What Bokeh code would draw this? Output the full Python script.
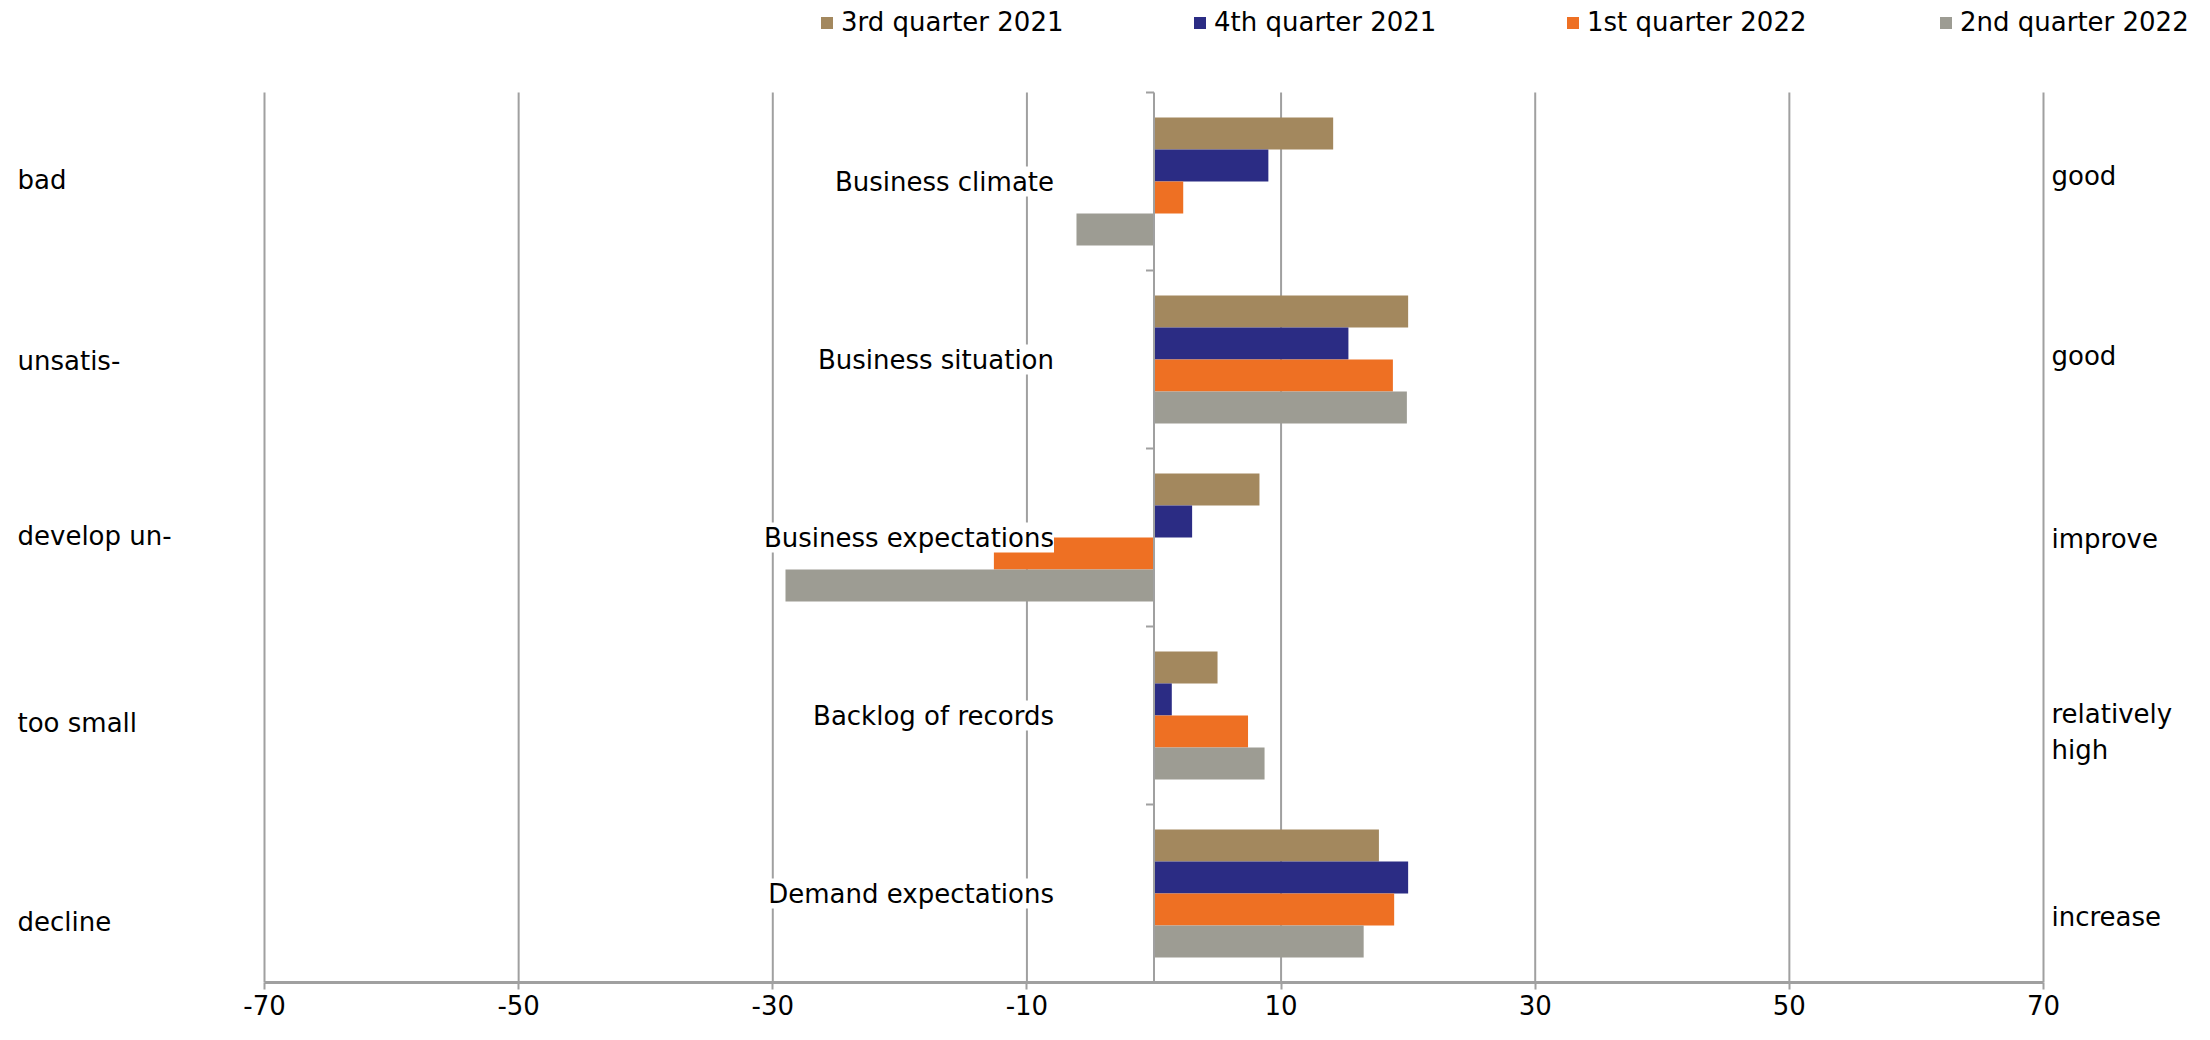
from bokeh.plotting import figure
from bokeh.models import (ColumnDataSource, FixedTicker, LabelSet, Legend,
                          LegendItem, Range1d)
from bokeh.embed import file_html
from bokeh.resources import INLINE
from bokeh.core.properties import value

# ---------------- data ----------------
categories = ["Business climate", "Business situation", "Business expectations",
              "Backlog of records", "Demand expectations"]
series_names = ["3rd quarter 2021", "4th quarter 2021", "1st quarter 2022", "2nd quarter 2022"]
q3_2021 = [14.1, 20.0, 8.3, 5.0, 17.7]
q4_2021 = [9.0, 15.3, 3.0, 1.4, 20.0]
q1_2022 = [2.3, 18.8, -12.6, 7.4, 18.9]
q2_2022 = [-6.1, 19.9, -29.0, 8.7, 16.5]
x_ticks = [-70, -50, -30, -10, 10, 30, 50, 70]
left_labels = ["bad", "unsatis-", "develop un-", "too small", "decline"]
right_labels = ["good", "good", "improve", "relatively\nhigh", "increase"]

# ---------------- style / layout ----------------
colors = ["#A3885E", "#2B2C84", "#EE7023", "#9D9C93"]
FONT = "DejaVu Sans"
FS = "26px"
GRID = "#A0A0A0"
W, H = 2194, 1024
AXIS_H = 42
FH = H - AXIS_H
X_MIN, X_MAX = -70, 70
PX_LEFT, PX_RIGHT = 264, 2043      # pixel positions of -70 and 70
PX_TOP = 92                        # pixel position of the top of the category block
n = len(categories)
ppu_x = (PX_RIGHT - PX_LEFT) / (X_MAX - X_MIN)
ppu_y = (FH - PX_TOP) / n
x_start = X_MIN - PX_LEFT / ppu_x
x_end = X_MAX + (W - PX_RIGHT) / ppu_x
y_end = n + PX_TOP / ppu_y

bar_offsets = [0.27, 0.09, -0.09, -0.27]
bar_h = 0.18
left_label_y = [4.51, 3.49, 2.51, 1.46, 0.34]
right_label_y = [4.53, 3.52, 2.49, 1.41, 0.37]

p = figure(frame_width=W, frame_height=FH,
           x_range=Range1d(x_start, x_end), y_range=Range1d(0, y_end),
           output_backend="svg", toolbar_location=None,
           min_border_left=0, min_border_right=0, min_border_top=0,
           min_border_bottom=AXIS_H, y_axis_location=None)
p.outline_line_color = None
p.background_fill_color = "white"
p.border_fill_color = "white"
p.xgrid.visible = False
p.ygrid.visible = False

# x axis
ax = p.xaxis[0]
ax.ticker = FixedTicker(ticks=x_ticks)
ax.bounds = (X_MIN, X_MAX)
ax.axis_line_color = GRID
ax.axis_line_width = 3
ax.major_tick_line_color = GRID
ax.major_tick_line_width = 2
ax.major_tick_out = 7
ax.major_tick_in = 0
ax.minor_tick_line_color = None
ax.major_label_text_font = FONT
ax.major_label_text_font_size = FS
ax.major_label_text_color = "black"
ax.major_label_standoff = 5
ax.major_label_overrides = {t: str(t) for t in x_ticks}

# vertical gridlines
p.segment(x0=x_ticks, x1=x_ticks, y0=[0] * len(x_ticks), y1=[n] * len(x_ticks),
          line_color=GRID, line_width=2)

# bars
series = [q3_2021, q4_2021, q1_2022, q2_2022]
renderers = []
for j, vals in enumerate(series):
    ys = [n - 1 - i + 0.5 + bar_offsets[j] for i in range(n)]
    src = ColumnDataSource(dict(y=ys, right=vals, left=[0] * n))
    r = p.hbar(y="y", left="left", right="right", height=bar_h, source=src,
               fill_color=colors[j], line_color=None)
    renderers.append(r)

# zero line with category boundary ticks
p.segment(x0=[0], x1=[0], y0=[0], y1=[n], line_color=GRID, line_width=2)
tick_units = 8 / ppu_x
p.segment(x0=[-tick_units] * n, x1=[0] * n,
          y0=list(range(1, n + 1)), y1=list(range(1, n + 1)),
          line_color=GRID, line_width=2)

# category labels
cat_src = ColumnDataSource(dict(x=[0] * n, y=[n - 1 - i + 0.5 for i in range(n)], text=categories))
p.add_layout(LabelSet(x="x", y="y", text="text", source=cat_src, x_offset=-100,
                      text_align="right", text_baseline="middle",
                      text_font=value(FONT), text_font_size=FS, text_color="black",
                      background_fill_color="white"))

# side labels
ls = ColumnDataSource(dict(x=[X_MIN] * n, y=left_label_y, text=left_labels))
p.add_layout(LabelSet(x="x", y="y", text="text", source=ls, x_offset=-247,
                      text_align="left", text_baseline="middle",
                      text_font=value(FONT), text_font_size=FS, text_color="black"))
rs = ColumnDataSource(dict(x=[X_MAX] * n, y=right_label_y, text=right_labels))
p.add_layout(LabelSet(x="x", y="y", text="text", source=rs, x_offset=8,
                      text_align="left", text_baseline="middle",
                      text_font=value(FONT), text_font_size=FS, text_color="black"))

# legend
legend = Legend(items=[LegendItem(label=series_names[j], renderers=[renderers[j]]) for j in range(4)],
                orientation="horizontal", location=(819, FH - 37),
                glyph_width=15, glyph_height=15, label_standoff=7, label_width=229,
                spacing=122, padding=0, margin=0,
                label_text_font=FONT, label_text_font_size=FS, label_text_color="black",
                border_line_color=None, background_fill_alpha=0)
p.add_layout(legend)

open("out.html", "w").write(file_html(p, INLINE))
